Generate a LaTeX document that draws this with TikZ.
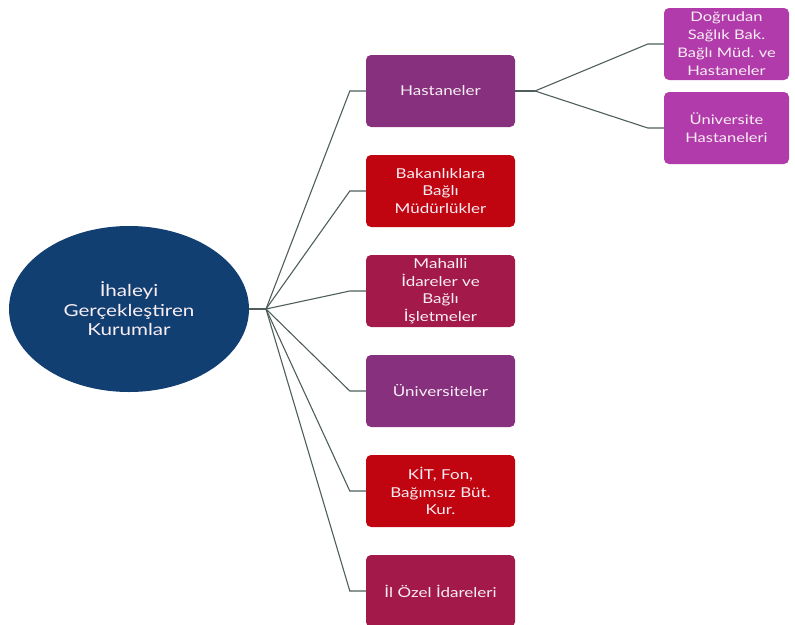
\documentclass[tikz,border=0pt]{standalone}
\usepackage{fontspec}
\setmainfont{Lato}
\newfontfamily\wfont{Lato}[FakeStretch=1.25]
\usetikzlibrary{shapes.geometric}
\definecolor{navy}{HTML}{123F72}
\definecolor{purp}{HTML}{87307D}
\definecolor{redb}{HTML}{C00510}
\definecolor{crim}{HTML}{A31A4A}
\definecolor{mag}{HTML}{B23BAB}
\definecolor{conn}{HTML}{4F5E5C}
\definecolor{txt}{HTML}{F8EEF4}
\frenchspacing
\newcommand\boxfont{\wfont\fontsize{13.6}{17.5}\selectfont\spaceskip=3pt plus 1pt\relax}
\newcommand\sboxfont{\wfont\fontsize{13.2}{18}\selectfont\spaceskip=2.5pt plus 1pt\relax}
\begin{document}
\begin{tikzpicture}[x=1pt,y=-1pt,
  box/.style={draw=none,rounded corners=5pt,minimum width=149pt,minimum height=72pt,
    text width=140pt,align=center,text=txt,font=\boxfont,inner sep=0pt},
  sbox/.style={box,minimum width=125pt,text width=124pt,font=\sboxfont},
  ln/.style={draw=conn,line width=1.1pt},
  thick ln/.style={draw=conn,line width=2.6pt}]
\useasboundingbox (0,0) rectangle (795,624);
\node[ellipse,fill=navy,minimum width=240pt,minimum height=166pt,inner sep=0pt,
  align=center,text=txt,font=\wfont\fontsize{16.5}{19.5}\selectfont] (root) at (129,309)
  {İhaleyi\\Gerçekleştiren\\Kurumlar};
\node[box,fill=purp] (b1) at (440.5,91) {Hastaneler};
\node[box,fill=redb] (b2) at (440.5,191) {Bakanlıklara\\Bağlı\\Müdürlükler};
\node[box,fill=crim] (b3) at (440.5,291) {Mahalli\\İdareler ve\\Bağlı\\İşletmeler};
\node[box,fill=purp] (b4) at (440.5,391) {Üniversiteler};
\node[box,fill=redb] (b5) at (440.5,491) {KİT, Fon,\\Bağımsız Büt.\\Kur.};
\node[box,fill=crim] (b6) at (440.5,591) {İl Özel İdareleri};
\node[sbox,fill=mag] (s1) at (726.5,44) {Doğrudan\\Sağlık Bak.\\Bağlı Müd. ve\\Hastaneler};
\node[sbox,fill=mag] (s2) at (726.5,128) {Üniversite\\Hastaneleri};
\coordinate (hub) at (266,309);
\coordinate (hub2) at (535,91);
\draw[thick ln] (root.east) -- (hub);
\foreach \i in {1,...,6}{
  \draw[ln] (hub) -- ([xshift=-16pt]b\i.west) -- (b\i.west);
}
\draw[thick ln,line width=2pt] (b1.east) -- (hub2);
\foreach \i in {1,2}{
  \draw[ln] (hub2) -- ([xshift=-16pt]s\i.west) -- (s\i.west);
}
\end{tikzpicture}
\end{document}
